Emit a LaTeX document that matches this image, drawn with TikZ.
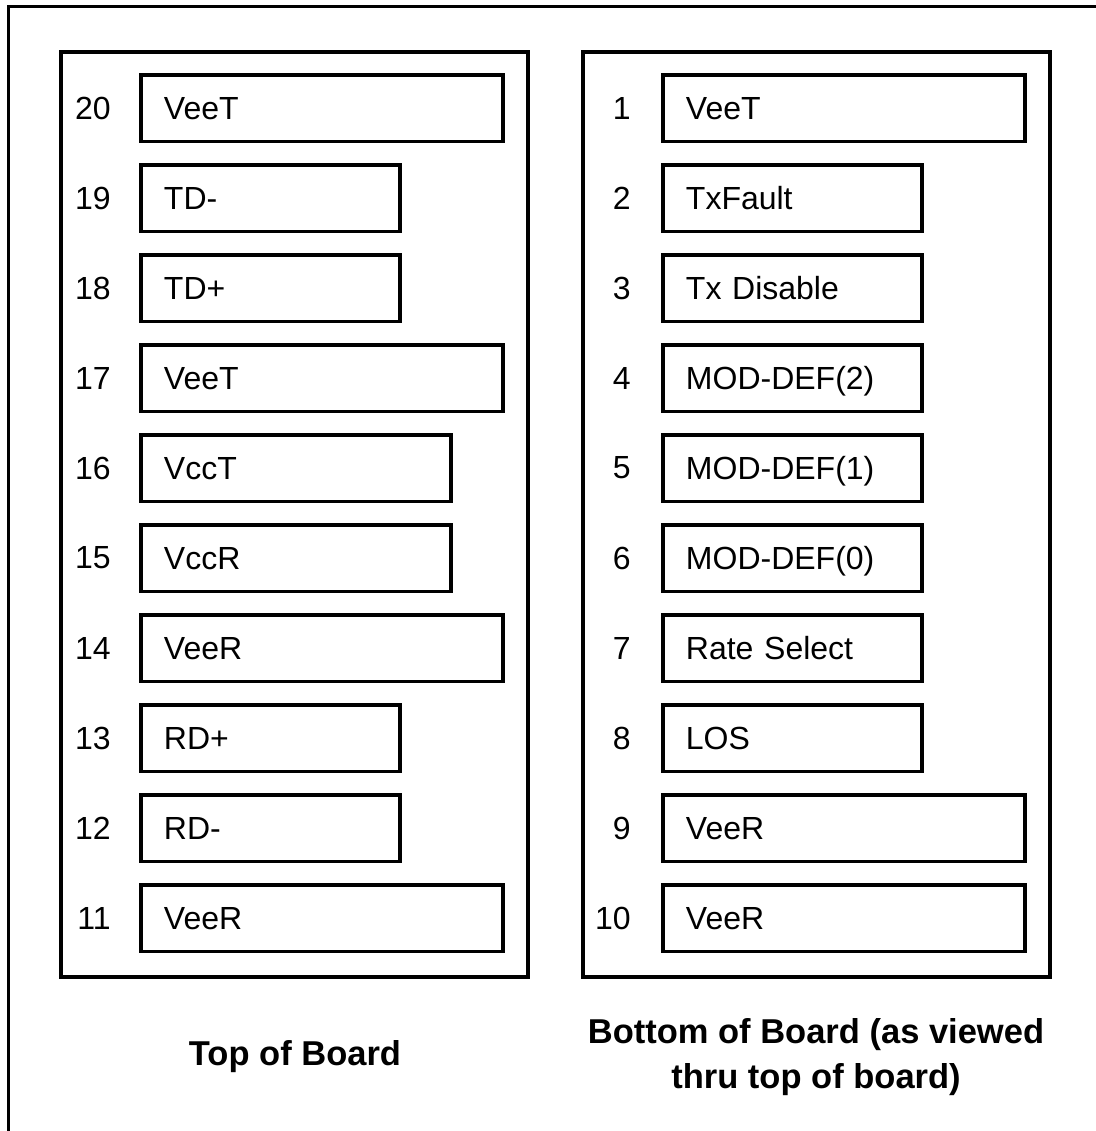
\documentclass[tikz,border=0pt]{standalone}
\usepackage{fontspec}
\setmainfont{Liberation Sans}
\usepackage{tikz}
\usetikzlibrary{positioning}

\begin{document}
\begin{tikzpicture}[x=0.5pt,y=-0.5pt,font=\fontsize{16}{22.5}\selectfont,
node distance=13pt]
\tikzstyle{pin}=[draw=black,line width=1.75pt,rectangle,anchor=west,
minimum height=33.25pt,inner xsep=11.6pt,inner ysep=0pt,align=left,
text height=11.5pt,text depth=0pt]
\tikzstyle{long}=[pin,text width=158pt]
\tikzstyle{mid}=[pin,text width=132pt]
\tikzstyle{short}=[pin,text width=106.5pt]
\tikzstyle{num}=[anchor=east,inner sep=0pt]
\tikzstyle{caption}=[font=\fontsize{17.25}{22.5}\selectfont\bfseries,align=center]

\useasboundingbox (0,0) rectangle (1096,1131);

% outer frame
\draw[line width=1.5pt] (8,1140) |- (1100,6);

% boards
\draw[line width=2.4pt] (61,52) rectangle (528,977);
\draw[line width=2.4pt] (583,52) rectangle (1050,977);

% top of board
\node[long]  (p20) at (139,108) {VeeT};
\node[short] (p19) at (139,198) {TD-};
\node[short] (p18) at (139,288) {TD+};
\node[long]  (p17) at (139,378) {VeeT};
\node[mid]   (p16) at (139,468) {VccT};
\node[mid]   (p15) at (139,558) {VccR};
\node[long]  (p14) at (139,648) {VeeR};
\node[short] (p13) at (139,738) {RD+};
\node[short] (p12) at (139,828) {RD-};
\node[long]  (p11) at (139,918) {VeeR};

\node[num] (n20) [left=14pt of p20] {20};
\node[num] (n19) [left=14pt of p19] {19};
\node[num] (n18) [left=14pt of p18] {18};
\node[num] (n17) [left=14pt of p17] {17};
\node[num] (n16) [left=14pt of p16] {16};
\node[num] (n15) [left=14pt of p15] {15};
\node[num] (n14) [left=14pt of p14] {14};
\node[num] (n13) [left=14pt of p13] {13};
\node[num] (n12) [left=14pt of p12] {12};
\node[num] (n11) [left=14pt of p11] {11};

% bottom of board
\node[long]  (p1)  at (661,108) {VeeT};
\node[short] (p2)  at (661,198) {TxFault};
\node[short] (p3)  at (661,288) {Tx Disable};
\node[short] (p4)  at (661,378) {MOD-DEF(2)};
\node[short] (p5)  at (661,468) {MOD-DEF(1)};
\node[short] (p6)  at (661,558) {MOD-DEF(0)};
\node[short] (p7)  at (661,648) {Rate Select};
\node[short] (p8)  at (661,738) {LOS};
\node[long]  (p9)  at (661,828) {VeeR};
\node[long]  (p10) at (661,918) {VeeR};

\node[num] (n1)  [left=15pt of p1]  {1};
\node[num] (n2)  [left=15pt of p2]  {2};
\node[num] (n3)  [left=15pt of p3]  {3};
\node[num] (n4)  [left=15pt of p4]  {4};
\node[num] (n5)  [left=15pt of p5]  {5};
\node[num] (n6)  [left=15pt of p6]  {6};
\node[num] (n7)  [left=15pt of p7]  {7};
\node[num] (n8)  [left=15pt of p8]  {8};
\node[num] (n9)  [left=15pt of p9]  {9};
\node[num] (n10) [left=15pt of p10] {10};

% captions
\node[caption] (top) at (295,1057) {Top of Board};
\node[caption] (bot) at (816,1057) {Bottom of Board (as viewed\\thru top of board)};

\end{tikzpicture}
\end{document}
